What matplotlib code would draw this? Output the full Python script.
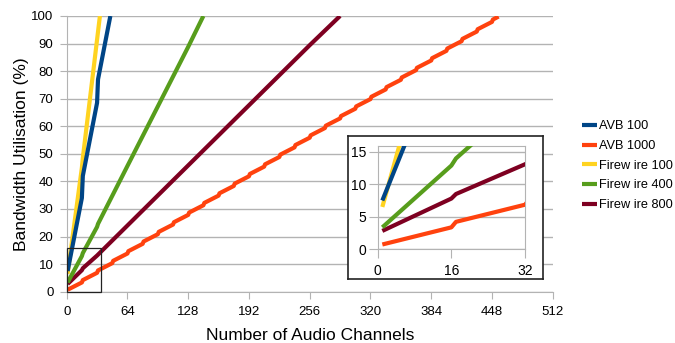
import matplotlib
matplotlib.use("Agg")
import matplotlib.pyplot as plt
from matplotlib.patches import Rectangle

plt.rcParams["font.family"] = ["Liberation Sans", "DejaVu Sans"]

series_names = ["AVB 100", "AVB 1000", "Firew ire 100", "Firew ire 400", "Firew ire 800"]
colors = ["#004586", "#ff420e", "#ffd320", "#579d1c", "#7e0021"]

avb100_ch = [1, 16, 17, 32, 33, 46]
avb100_util = [7.5, 34, 42, 68.5, 77, 100]

avb1000_ch = [1, 16, 17, 32, 33, 48, 49, 64, 65, 80, 81, 96, 97, 112, 113,
              128, 129, 144, 145, 160, 161, 176, 177, 192, 193, 208, 209,
              224, 225, 240, 241, 256, 257, 272, 273, 288, 289, 304, 305,
              320, 321, 336, 337, 352, 353, 368, 369, 384, 385, 400, 401,
              416, 417, 432, 433, 448, 449, 455]
avb1000_util = [0.7, 3.35, 4.2, 6.85, 7.7, 10.35, 11.2, 13.85, 14.7, 17.35, 18.2,
                20.85, 21.7, 24.35, 25.2, 27.85, 28.7, 31.35, 32.2, 34.85, 35.7,
                38.35, 39.2, 41.85, 42.7, 45.35, 46.2, 48.85, 49.7, 52.35, 53.2,
                55.85, 56.7, 59.35, 60.2, 62.85, 63.7, 66.35, 67.2, 69.85, 70.7,
                73.35, 74.2, 76.85, 77.7, 80.35, 81.2, 83.85, 84.7, 87.35, 88.2,
                90.85, 91.7, 94.35, 95.2, 97.85, 98.7, 99.8]

fw100_ch = [1, 16, 17, 35]
fw100_util = [6.5, 45, 48.5, 100]

fw400_ch = [1, 16, 17, 20, 32, 33, 64, 96, 128, 144]
fw400_util = [3.35, 12.9, 14.0, 15.9, 23.5, 24.6, 45.6, 67.2, 88.8, 100]

fw800_ch = [1, 16, 17, 32, 64, 96, 128, 160, 192, 224, 256, 288]
fw800_util = [2.8, 7.8, 8.5, 13.1, 24.0, 34.9, 45.8, 56.7, 67.6, 78.5, 89.4, 100]

main_xticks = [0, 64, 128, 192, 256, 320, 384, 448, 512]
main_yticks = [0, 10, 20, 30, 40, 50, 60, 70, 80, 90, 100]
inset_xticks = [0, 16, 32]
inset_yticks = [0, 5, 10, 15]

series = [(avb100_ch, avb100_util), (avb1000_ch, avb1000_util),
          (fw100_ch, fw100_util), (fw400_ch, fw400_util), (fw800_ch, fw800_util)]

grid_col = "#b3b3b3"

fig = plt.figure(figsize=(6.75, 3.43), dpi=100)
ax = fig.add_axes([0.0988, 0.1496, 0.72, 0.8038])

handles = []
for i, ((x, y), name, c) in enumerate(zip(series, series_names, colors)):
    h, = ax.plot(x, y, color=c, lw=3, solid_capstyle="butt", label=name,
                 zorder=10 - i)
    handles.append(h)

ax.set_xlim(0, 512)
ax.set_ylim(0, 100)
ax.set_xticks(main_xticks)
ax.set_yticks(main_yticks)
ax.grid(axis="y", color=grid_col, lw=1)
ax.set_axisbelow(True)
for s in ["top", "right"]:
    ax.spines[s].set_visible(False)
for s in ["left", "bottom"]:
    ax.spines[s].set_color(grid_col)
ax.tick_params(direction="out", length=5, color=grid_col, labelsize=9.5,
               pad=4.5)
ax.tick_params(axis="x", pad=5.5)
ax.set_xlabel("Number of Audio Channels", fontsize=12.5, labelpad=7)
ax.set_ylabel("Bandwidth Utilisation (%)", fontsize=12.5, labelpad=1.5)

ax.add_patch(Rectangle((0, 0), 36, 16, fill=False, edgecolor="#222222",
                       lw=0.9, zorder=20, clip_on=False))

# frame around the zoomed view
frame = fig.add_axes([0.5156, 0.1866, 0.2889, 0.4169])
frame.set_xticks([])
frame.set_yticks([])
frame.set_facecolor("white")
for s in frame.spines.values():
    s.set_color("#222222")
    s.set_linewidth(1.2)

ins = fig.add_axes([0.5596, 0.274, 0.2182, 0.3018])
for i, ((x, y), c) in enumerate(zip(series, colors)):
    ins.plot(x, y, color=c, lw=3, solid_capstyle="butt", zorder=10 - i)
ins.set_xlim(0, 32)
ins.set_ylim(0, 16)
ins.set_xticks(inset_xticks)
ins.set_yticks(inset_yticks)
ins.grid(axis="y", color=grid_col, lw=1)
ins.set_axisbelow(True)
for s in ins.spines.values():
    s.set_color(grid_col)
ins.tick_params(direction="out", length=6.5, color=grid_col, labelsize=10,
                pad=2)
ins.tick_params(axis="x", pad=4)

fig.legend(handles, series_names, loc="center left",
           bbox_to_anchor=(0.862, 0.517), frameon=False, fontsize=9.2,
           handlelength=1.15, handletextpad=0.2, labelspacing=0.6,
           borderpad=0, borderaxespad=0)

fig.savefig("out.png", dpi=100)
